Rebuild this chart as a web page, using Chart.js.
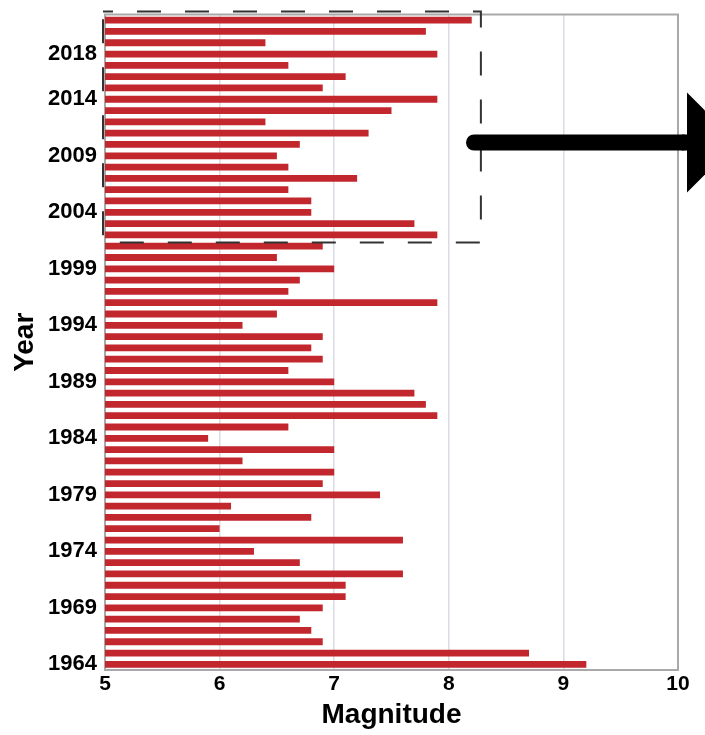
<!DOCTYPE html>
<html>
<head>
<meta charset="utf-8">
<script src="https://cdn.jsdelivr.net/npm/chart.js@4/dist/chart.umd.min.js"></script>
<style>
  html, body { margin: 0; padding: 0; background: #ffffff; }
  #wrap { width: 705px; height: 735px; position: relative; }
</style>
</head>
<body>
<div id="wrap"><canvas id="c" width="705" height="735"></canvas></div>
<script>
const years = ["1964","1965","1966","1967","1968","1969","1970","1971","1972","1973",
  "1974","1975","1976","1977","1978","1979","1980","1981","1982","1983",
  "1984","1985","1986","1987","1988","1989","1990","1991","1992","1993",
  "1994","1995","1996","1997","1998","1999","2000","2001","2002","2003",
  "2004","2005","2006","2007","2008","2009","2010","2011","2012","2013",
  "2014","2015","2016","2017","2018","2019","2020","2021"];
const magnitudes = [9.2,8.7,6.9,6.8,6.7,6.9,7.1,7.1,7.6,6.7,
  6.3,7.6,6.0,6.8,6.1,7.4,6.9,7.0,6.2,7.0,
  5.9,6.6,7.9,7.8,7.7,7.0,6.6,6.9,6.8,6.9,
  6.2,6.5,7.9,6.6,6.7,7.0,6.5,6.9,7.9,7.7,
  6.8,6.8,6.6,7.2,6.6,6.5,6.7,7.3,6.4,7.5,
  7.9,6.9,7.1,6.6,7.9,6.4,7.8,8.2];
const yearTicks = ["1964","1969","1974","1979","1984","1989","1994","1999","2004","2009","2014","2018"];
const xTicks = [5, 6, 7, 8, 9, 10];
const highlightFrom = "2002";
const highlightTo = "2021";
const highlightMaxMag = 8.28;
const arrowStartMag = 8.22;

const framePlugin = {
  id: 'frame',
  beforeDatasetsDraw(chart) {
    const {ctx, chartArea: a} = chart;
    ctx.save();
    ctx.strokeStyle = '#a9a9a9';
    ctx.lineWidth = 2;
    ctx.strokeRect(a.left, a.top, a.right - a.left, a.bottom - a.top);
    ctx.restore();
  }
};

const annotPlugin = {
  id: 'annot',
  afterDraw(chart) {
    const {ctx, chartArea: a} = chart;
    const xs = chart.scales.x, ys = chart.scales.y;
    const half = Math.abs(ys.getPixelForValue(1) - ys.getPixelForValue(0)) / 2;
    const i0 = years.indexOf(highlightFrom), i1 = years.indexOf(highlightTo);
    const top = ys.getPixelForValue(i1) - half - 3;
    const bottom = ys.getPixelForValue(i0) + half + 2;
    const left = xs.getPixelForValue(5) - 2;
    const right = xs.getPixelForValue(highlightMaxMag);
    ctx.save();
    ctx.strokeStyle = '#333333';
    ctx.lineWidth = 2;
    ctx.setLineDash([24, 24]);
    ctx.lineDashOffset = 14;
    ctx.strokeRect(left, top, right - left, bottom - top);
    ctx.restore();

    // arrow
    const ay = a.top + 128;
    const ax0 = xs.getPixelForValue(arrowStartMag);
    const headX = a.right + 9;
    ctx.save();
    ctx.strokeStyle = '#000';
    ctx.fillStyle = '#000';
    ctx.lineWidth = 16;
    ctx.lineCap = 'round';
    ctx.beginPath();
    ctx.moveTo(ax0, ay);
    ctx.lineTo(headX - 4, ay);
    ctx.stroke();
    ctx.lineCap = 'butt';
    ctx.beginPath();
    ctx.moveTo(headX - 5, ay);
    ctx.lineTo(headX + 4, ay);
    ctx.stroke();
    ctx.beginPath();
    ctx.moveTo(headX, ay - 50);
    ctx.lineTo(headX + 50, ay);
    ctx.lineTo(headX, ay + 50);
    ctx.closePath();
    ctx.fill();
    ctx.restore();
  }
};

new Chart(document.getElementById('c'), {
  type: 'bar',
  data: {
    labels: years,
    datasets: [{
      data: magnitudes,
      backgroundColor: 'rgb(193,39,45)',
      borderWidth: 0,
      barPercentage: 0.6,
      categoryPercentage: 1.0
    }]
  },
  options: {
    indexAxis: 'y',
    responsive: false,
    animation: false,
    devicePixelRatio: 1,
    layout: { padding: { top: 14.5, right: 27, left: 0, bottom: 0 } },
    plugins: { legend: { display: false }, tooltip: { enabled: false } },
    scales: {
      x: {
        min: 5, max: 10,
        afterBuildTicks(scale) { scale.ticks = xTicks.map(v => ({ value: v })); },
        afterFit(scale) { scale.height = 65; },
        border: { display: false },
        grid: {
          color: (c) => (c.tick && (c.tick.value === 5 || c.tick.value === 10)) ? 'rgba(0,0,0,0)' : '#d9dce3',
          lineWidth: 1.5,
          drawTicks: false
        },
        ticks: {
          color: '#000',
          padding: 2,
          font: { family: 'Liberation Sans, Arial, sans-serif', size: 21, weight: 'bold' }
        },
        title: {
          display: true,
          text: 'Magnitude',
          color: '#000',
          padding: { top: 0, bottom: 3 },
          font: { family: 'Liberation Sans, Arial, sans-serif', size: 28, weight: 'bold' }
        }
      },
      y: {
        reverse: true,
        afterFit(scale) { scale.width = 105; scale.paddingTop = 0; scale.paddingBottom = 0; },
        border: { display: false },
        grid: { display: false, drawTicks: false },
        ticks: {
          autoSkip: false,
          color: '#000',
          padding: 8,
          font: { family: 'Liberation Sans, Arial, sans-serif', size: 22, weight: 'bold' },
          callback: function(value) {
            const lab = this.getLabelForValue(value);
            return yearTicks.includes(lab) ? lab : '';
          }
        },
        title: {
          display: true,
          text: 'Year',
          color: '#000',
          padding: { top: 8, bottom: 0 },
          font: { family: 'Liberation Sans, Arial, sans-serif', size: 28, weight: 'bold' }
        }
      }
    }
  },
  plugins: [framePlugin, annotPlugin]
});
</script>
</body>
</html>
